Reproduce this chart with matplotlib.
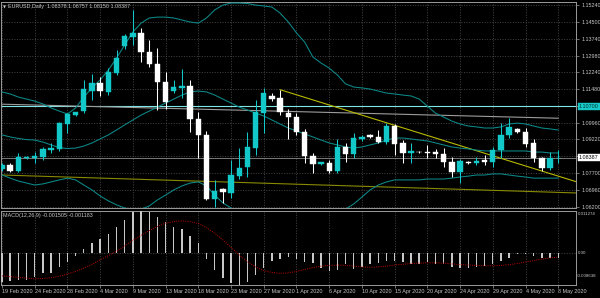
import matplotlib
matplotlib.use("Agg")
import matplotlib.pyplot as plt
import numpy as np

# ---------------- data (EURUSD, Daily) ----------------
date_labels = ["19 Feb 2020", "24 Feb 2020", "28 Feb 2020", "4 Mar 2020", "9 Mar 2020",
               "13 Mar 2020", "18 Mar 2020", "23 Mar 2020", "27 Mar 2020", "1 Apr 2020",
               "6 Apr 2020", "10 Apr 2020", "15 Apr 2020", "20 Apr 2020", "24 Apr 2020",
               "29 Apr 2020", "4 May 2020", "8 May 2020"]
label_bars = list(range(0, 69, 4))

opens = [1.0790, 1.0806, 1.0782, 1.0840, 1.0837, 1.0843, 1.0874, 1.0877, 1.0991, 1.1030,
         1.1049, 1.1141, 1.1176, 1.1136, 1.1221, 1.1341, 1.1383, 1.1398, 1.1316, 1.1260,
         1.1181, 1.1141, 1.1154, 1.1162, 1.1013, 1.0941, 1.0654, 1.0699, 1.0681, 1.0758,
         1.0798, 1.0883, 1.1042, 1.1117, 1.1107, 1.1042, 1.1024, 1.0954, 1.0847, 1.0810,
         1.0817, 1.0781, 1.0886, 1.0856, 1.0924, 1.0941, 1.0934, 1.0912, 1.0983, 1.0904,
         1.0860, 1.0867, 1.0867, 1.0864, 1.0855, 1.0822, 1.0777, 1.0822, 1.0815, 1.0829,
         1.0822, 1.0874, 1.0942, 1.0969, 1.0954, 1.0904, 1.0837, 1.0795, 1.08378]
highs = [1.0815, 1.0818, 1.0863, 1.0848, 1.0865, 1.0888, 1.0907, 1.1001, 1.1040, 1.1047,
         1.1188, 1.1216, 1.1202, 1.1242, 1.1323, 1.1395, 1.1503, 1.1423, 1.1368, 1.1334,
         1.1226, 1.1189, 1.1238, 1.1189, 1.1045, 1.0960, 1.0740, 1.0704, 1.0829, 1.0883,
         1.0955, 1.1099, 1.1153, 1.1130, 1.1144, 1.1060, 1.1040, 1.0970, 1.0860, 1.0822,
         1.0829, 1.0924, 1.0904, 1.0951, 1.0940, 1.0945, 1.0964, 1.0995, 1.0990, 1.0919,
         1.0904, 1.0870, 1.0897, 1.0877, 1.0882, 1.0842, 1.0835, 1.0826, 1.0844, 1.0852,
         1.0889, 1.0994, 1.1017, 1.0975, 1.0972, 1.0924, 1.0845, 1.0867, 1.08757]
lows = [1.0778, 1.0775, 1.0775, 1.0835, 1.0816, 1.0829, 1.0862, 1.0870, 1.0951, 1.1025,
        1.1040, 1.1100, 1.1118, 1.1121, 1.1210, 1.1330, 1.1346, 1.1271, 1.1245, 1.1054,
        1.1060, 1.1130, 1.1110, 1.0955, 1.0838, 1.0650, 1.0620, 1.0636, 1.0659, 1.0745,
        1.0753, 1.0852, 1.0951, 1.1095, 1.1030, 1.0924, 1.0940, 1.0817, 1.0773, 1.0805,
        1.0770, 1.0770, 1.0822, 1.0840, 1.0915, 1.0930, 1.0905, 1.0900, 1.0852, 1.0816,
        1.0815, 1.0860, 1.0837, 1.0837, 1.0799, 1.0755, 1.0725, 1.0812, 1.0807, 1.0807,
        1.0800, 1.0837, 1.0930, 1.0950, 1.0889, 1.0822, 1.0780, 1.0785, 1.08150]
closes = [1.0806, 1.0779, 1.0845, 1.0843, 1.0847, 1.0879, 1.0885, 1.0997, 1.1036, 1.1043,
          1.1148, 1.1176, 1.1139, 1.1223, 1.1289, 1.1387, 1.1401, 1.1313, 1.1260, 1.1181,
          1.1090, 1.1157, 1.1163, 1.1013, 1.0941, 1.0654, 1.0690, 1.0686, 1.0762, 1.0794,
          1.0888, 1.1044, 1.1132, 1.1103, 1.1044, 1.1021, 1.0954, 1.0849, 1.0810, 1.0819,
          1.0781, 1.0889, 1.0856, 1.0927, 1.0934, 1.0934, 1.0912, 1.0983, 1.0900, 1.0860,
          1.0871, 1.0864, 1.0862, 1.0855, 1.0819, 1.0777, 1.0825, 1.0815, 1.0826, 1.0822,
          1.0874, 1.0942, 1.0979, 1.0954, 1.0900, 1.0840, 1.0795, 1.0837, 1.08387]

bb_upper = [1.1135, 1.1126, 1.1112, 1.1103, 1.1094, 1.1081, 1.1063, 1.1049, 1.1036, 1.1063,
            1.1112, 1.1153, 1.1189, 1.1233, 1.1287, 1.1346, 1.1404, 1.1444, 1.1467, 1.1471,
            1.1471, 1.1467, 1.1458, 1.1449, 1.1444, 1.1467, 1.1503, 1.1525, 1.1534, 1.1534,
            1.1532, 1.1525, 1.1521, 1.1516, 1.1489, 1.1449, 1.1400, 1.1359, 1.1292, 1.1265,
            1.1242, 1.1211, 1.1171, 1.1157, 1.1153, 1.1148, 1.1139, 1.1130, 1.1126, 1.1121,
            1.1117, 1.1103, 1.1071, 1.1040, 1.1022, 1.1004, 1.0991, 1.0982, 1.0978, 1.0973,
            1.0973, 1.0978, 1.0991, 1.0995, 1.0991, 1.0982, 1.0973, 1.0969, 1.0964]
bb_middle = [1.0942, 1.0933, 1.0926, 1.0921, 1.0919, 1.0910, 1.0897, 1.0885, 1.0881, 1.0883,
             1.0892, 1.0906, 1.0924, 1.0942, 1.0964, 1.0987, 1.1009, 1.1031, 1.1049, 1.1067,
             1.1085, 1.1103, 1.1121, 1.1135, 1.1139, 1.1135, 1.1121, 1.1103, 1.1085, 1.1067,
             1.1054, 1.1040, 1.1027, 1.1009, 1.0991, 1.0973, 1.0960, 1.0946, 1.0933, 1.0919,
             1.0906, 1.0897, 1.0888, 1.0883, 1.0888, 1.0897, 1.0906, 1.0919, 1.0928, 1.0928,
             1.0924, 1.0919, 1.0915, 1.0906, 1.0897, 1.0888, 1.0883, 1.0879, 1.0874, 1.0870,
             1.0870, 1.0870, 1.0870, 1.0870, 1.0870, 1.0865, 1.0865, 1.0861, 1.0861]
bb_lower = [1.0762, 1.0748, 1.0735, 1.0726, 1.0717, 1.0722, 1.0731, 1.0740, 1.0748, 1.0740,
            1.0717, 1.0695, 1.0668, 1.0646, 1.0628, 1.0614, 1.0605, 1.0609, 1.0623, 1.0650,
            1.0672, 1.0695, 1.0713, 1.0726, 1.0731, 1.0713, 1.0672, 1.0637, 1.0614, 1.0591,
            1.0574, 1.0560, 1.0551, 1.0542, 1.0533, 1.0533, 1.0538, 1.0542, 1.0551, 1.0560,
            1.0569, 1.0587, 1.0609, 1.0632, 1.0663, 1.0695, 1.0717, 1.0731, 1.0740, 1.0740,
            1.0740, 1.0740, 1.0744, 1.0744, 1.0744, 1.0748, 1.0753, 1.0757, 1.0762, 1.0762,
            1.0767, 1.0767, 1.0762, 1.0757, 1.0753, 1.0748, 1.0748, 1.0748, 1.0748]

macd_hist = [-0.0079, -0.0077, -0.0072, -0.0072, -0.0066, -0.0054, -0.0054, -0.0039, -0.0024, -0.0009,
             0.0011, 0.0027, 0.0036, 0.0051, 0.0068, 0.0087, 0.0108, 0.011274, 0.0110, 0.0095,
             0.0081, 0.0069, 0.0063, 0.0045, 0.0027, -0.0018, -0.0045, -0.0068, -0.0081, -0.008638,
             -0.0078, -0.0059, -0.0041, -0.0023, -0.0018, -0.0012, -0.0016, -0.0024, -0.0027, -0.0042,
             -0.0049, -0.0046, -0.0031, -0.0043, -0.0038, -0.0031, -0.0027, -0.0021, -0.0022, -0.0024,
             -0.0031, -0.0031, -0.0024, -0.0029, -0.0029, -0.0038, -0.0040, -0.0040, -0.0038, -0.0036,
             -0.0031, -0.0022, -0.0013, -0.0003, -0.0004, -0.0009, -0.0015, -0.0013, -0.001505]
macd_signal = [-0.0062, -0.0064, -0.0066, -0.0068, -0.0070, -0.0069, -0.0067, -0.0063, -0.0057, -0.0050,
               -0.0041, -0.0032, -0.0019, -0.0008, 0.0004, 0.0018, 0.0033, 0.0046, 0.0059, 0.0070,
               0.0079, 0.0083, 0.0085, 0.0083, 0.0078, 0.0067, 0.0052, 0.0034, 0.0014, -0.0006,
               -0.0024, -0.0038, -0.0048, -0.0053, -0.0055, -0.0054, -0.0050, -0.0045, -0.0040, -0.0036,
               -0.0034, -0.0033, -0.0034, -0.0036, -0.0038, -0.0039, -0.0038, -0.0036, -0.0033, -0.0031,
               -0.0029, -0.0028, -0.0027, -0.0027, -0.0028, -0.0030, -0.0032, -0.0033, -0.0034, -0.0035,
               -0.0035, -0.0034, -0.0032, -0.0029, -0.0025, -0.0021, -0.0017, -0.0014, -0.001183]

price_grid = [1.15240, 1.14500, 1.13740, 1.12980, 1.12240, 1.11480, 1.10720, 1.09960,
              1.09220, 1.08460, 1.07700, 1.06960, 1.06200]
price_labels = ["1.15240", "1.14500", "1.13740", "1.12980", "1.12240", "1.11480", "",
                "1.09960", "1.09220", "", "1.07700", "1.06960", "1.06200"]
hline_level = 1.10700
bid_price = 1.08387
# drawn objects: (bar, price) anchors
yellow_trend = ([34, 68], [1.1145, 1.0757])
olive_trend = ([0, 68], [1.0762, 1.0684])
gray_trend = ([0, 68], [1.1080, 1.1017])

macd_max, macd_min = 0.011274, -0.008638
title = "EURUSD,Daily  1.08378 1.08757 1.08150 1.08387"
macd_title = "MACD(12,26,9) -0.001505 -0.001183"

# ---------------- styling ----------------
W, H = 600, 298
BG = "black"
TXT = "#c8c8c8"
GRID = "#5a5a5a"
BULL = "#12c8c8"
BEAR = "#ffffff"
BAND = "#0c8a8a"
FONT = "Liberation Sans"
FS = 3.9

fig = plt.figure(figsize=(W / 100, H / 100), dpi=100, facecolor=BG)

def px_box(x0, y0, x1, y1):
    return [x0 / W, 1 - y1 / H, (x1 - x0) / W, (y1 - y0) / H]

ax = fig.add_axes(px_box(1, 2, 576, 208), facecolor=BG)
axm = fig.add_axes(px_box(1, 210.5, 576, 285), facecolor=BG)

x = np.arange(len(closes))
bar_px = 8.18
xlim = ((1 - 2) / bar_px, (576 - 2) / bar_px)

def p_of_y(y):
    return 1.15478 - 0.000449 * y

for a in (ax, axm):
    a.set_xlim(*xlim)
    for s in a.spines.values():
        s.set_color("#9a9a9a")
        s.set_linewidth(0.7)
    for b in label_bars:
        a.axvline(b, color=GRID, lw=0.5, ls=(0, (1.5, 2.2)), zorder=0)

ax.set_ylim(p_of_y(208), p_of_y(2))
for g in price_grid:
    ax.axhline(g, color=GRID, lw=0.5, ls=(0, (1.5, 2.2)), zorder=0)

# drawn objects
ax.axhline(hline_level, color="#7fe6e6", lw=0.8, zorder=2)
ax.axhline(bid_price, color="#8c8c8c", lw=0.6, zorder=2)
ax.plot(gray_trend[0], gray_trend[1], color="#9c9c9c", lw=0.8, zorder=2)
ox, oy = olive_trend
slope_o = (oy[1] - oy[0]) / (ox[1] - ox[0])
ax.plot([xlim[0], xlim[1]], [oy[0] + slope_o * (xlim[0] - ox[0]), oy[0] + slope_o * (xlim[1] - ox[0])],
        color="#8a8a00", lw=0.8, zorder=2)
yx, yy = yellow_trend
slope_y = (yy[1] - yy[0]) / (yx[1] - yx[0])
ax.plot([yx[0], xlim[1]], [yy[0], yy[0] + slope_y * (xlim[1] - yx[0])], color="#b8b800", lw=0.8, zorder=2)

# Bollinger bands
for band in (bb_upper, bb_middle, bb_lower):
    ax.plot(x, band, color=BAND, lw=0.75, zorder=3)

# candles
o = np.array(opens); c = np.array(closes); hi = np.array(highs); lo = np.array(lows)
cols = [BULL if cc >= oo else BEAR for oo, cc in zip(o, c)]
ax.vlines(x, lo, hi, colors=cols, lw=0.75, zorder=4)
body_lo = np.minimum(o, c)
body_h = np.maximum(np.abs(c - o), 0.00004)
ax.bar(x, body_h, bottom=body_lo, width=0.66, color=cols, edgecolor=cols, lw=0.3, zorder=5)

# right price axis
ax.yaxis.tick_right()
ax.set_yticks(price_grid)
ax.set_yticklabels(price_labels)
ax.tick_params(axis="y", direction="out", length=2.5, width=0.5, colors="#9a9a9a",
               labelcolor=TXT, labelsize=FS, pad=1.2)
for t in ax.get_yticklabels():
    t.set_fontfamily(FONT)
ax.set_xticks([])

# boxed labels
ax.annotate("1.10700", xy=(1.0, hline_level), xycoords=("axes fraction", "data"),
            xytext=(2.2, 0), textcoords="offset points", ha="left", va="center",
            fontsize=FS, family=FONT, color="#003030",
            bbox=dict(boxstyle="square,pad=0.18", fc="#16c8c8", ec="#16c8c8", lw=0.3))
ax.annotate("1.08387", xy=(1.0, bid_price), xycoords=("axes fraction", "data"),
            xytext=(2.2, 0), textcoords="offset points", ha="left", va="center",
            fontsize=FS, family=FONT, color="#000000",
            bbox=dict(boxstyle="square,pad=0.18", fc="#ffffff", ec="#ffffff", lw=0.3))

ax.text(0.004, 0.985, "\u25BC", transform=ax.transAxes, fontsize=2.8, color=TXT,
        family="DejaVu Sans", ha="left", va="top")
ax.text(0.013, 0.988, title, transform=ax.transAxes, fontsize=FS, color=TXT,
        family=FONT, ha="left", va="top")

# MACD panel
axm.set_ylim(macd_min, macd_max)
axm.axhline(0, color=GRID, lw=0.5, ls=(0, (1.5, 2.2)), zorder=0)
axm.bar(x, macd_hist, width=0.17, color="#c8c8c8", zorder=3)
axm.plot(x, macd_signal, color="#c00000", lw=0.7, ls=(0, (1, 1.3)), zorder=4)
axm.set_yticks([])
axm.yaxis.tick_right()
MFS = 3.2
axm.annotate("0.011274", xy=(1.0, macd_max), xycoords=("axes fraction", "data"),
             xytext=(1.3, -1.0), textcoords="offset points", ha="left", va="top",
             fontsize=MFS, family=FONT, color=TXT)
axm.annotate("0.00", xy=(1.0, 0.0), xycoords=("axes fraction", "data"),
             xytext=(1.3, 0), textcoords="offset points", ha="left", va="center",
             fontsize=MFS, family=FONT, color=TXT)
axm.annotate("-0.008638", xy=(1.0, macd_min), xycoords=("axes fraction", "data"),
             xytext=(0.8, 5.0), textcoords="offset points", ha="left", va="bottom",
             fontsize=MFS, family=FONT, color=TXT)
axm.set_xticks(label_bars)
axm.set_xticklabels(date_labels, ha="left")
axm.tick_params(axis="x", direction="out", length=2.5, width=0.5, colors="#9a9a9a",
                labelcolor=TXT, labelsize=FS, pad=0.6)
for t in axm.get_xticklabels():
    t.set_fontfamily(FONT)
axm.text(0.004, 0.97, macd_title, transform=axm.transAxes, fontsize=FS, color=TXT,
         family=FONT, ha="left", va="top")

fig.savefig("out.png", dpi=100, facecolor=BG)
